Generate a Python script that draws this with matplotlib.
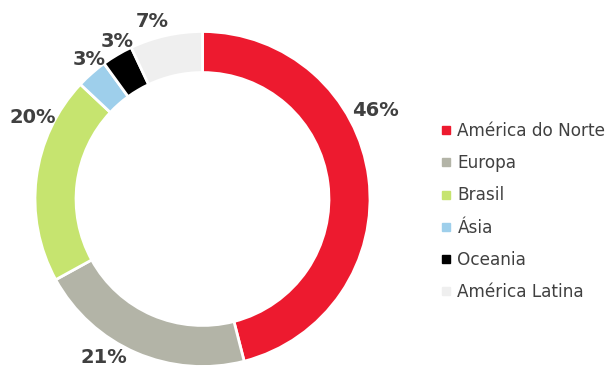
import matplotlib
matplotlib.use("Agg")
import matplotlib.pyplot as plt
from matplotlib.lines import Line2D

categories = ["América do Norte", "Europa", "Brasil", "Ásia", "Oceania", "América Latina"]
values = [46, 21, 20, 3, 3, 7]
labels = ["46%", "21%", "20%", "3%", "3%", "7%"]
colors = ["#ED1A2F", "#B3B4A7", "#C6E46F", "#9ECFEB", "#000000", "#EFEFEF"]
# label positions (pie radius units)
label_xy = [(1.033, 0.531), (-0.591, -0.949), (-1.015, 0.484),
            (-0.675, 0.830), (-0.507, 0.940), (-0.299, 1.057)]

plt.rcParams['font.family'] = ['DejaVu Sans']
W, H = 608, 367
fig = plt.figure(figsize=(W / 100, H / 100), dpi=100)
cx, cy, R = 202.5, 199.0, 167.5
ax = fig.add_axes([(cx - R) / W, (H - cy - R) / H, 2 * R / W, 2 * R / H])
wedges, _ = ax.pie(values, colors=colors, startangle=90, counterclock=False,
                   radius=1.0, wedgeprops=dict(width=0.245, edgecolor="white", linewidth=2))
ax.set_xlim(-1, 1)
ax.set_ylim(-1, 1)
ax.set_aspect("equal")
ax.axis("off")

for lab, (x, y) in zip(labels, label_xy):
    ax.text(x, y, lab, ha="center", va="center", fontsize=14, fontweight="bold",
            color="#404040", clip_on=False)

handles = [Line2D([0], [0], marker="s", linestyle="none", markersize=5.5,
                  markerfacecolor=c, markeredgecolor=c) for c in colors]
fig.legend(handles, categories, loc="upper left", bbox_to_anchor=(438 / W, 1 - 122 / H),
           frameon=False, fontsize=12.2, labelcolor="#404040", handletextpad=0.15,
           labelspacing=0.84, handlelength=1.0, borderaxespad=0, borderpad=0)

fig.savefig("out.png", dpi=100)
